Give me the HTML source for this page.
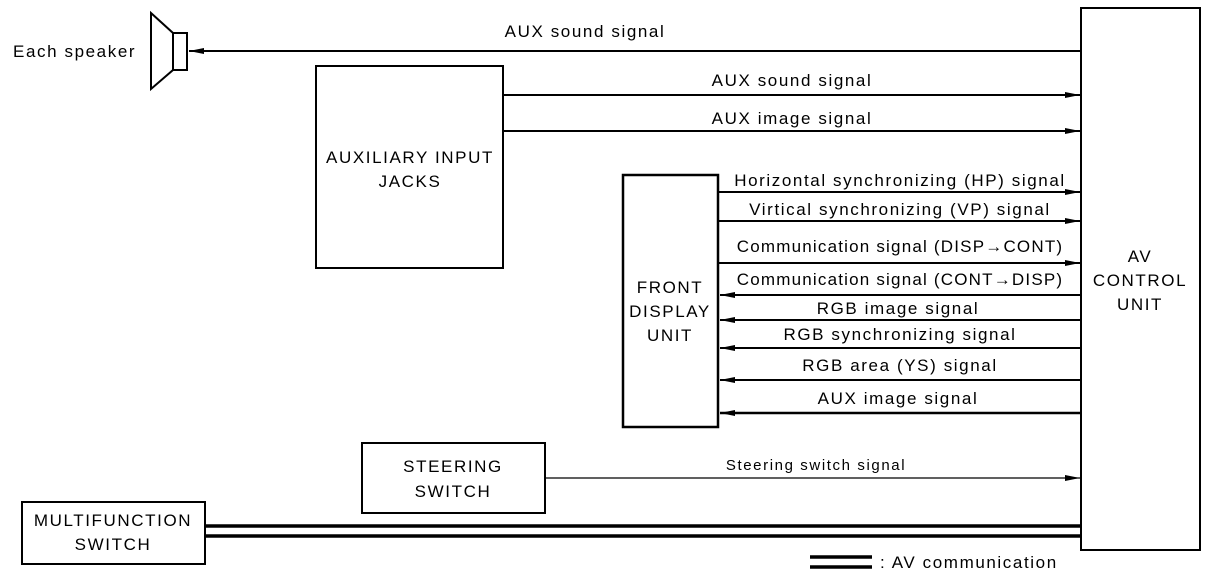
<!DOCTYPE html>
<html><head><style>
html,body{margin:0;padding:0;background:#fff;}
svg text{font-family:"Liberation Sans",sans-serif;font-size:17px;letter-spacing:1.6px;fill:#000;}
</style></head><body>
<svg width="1216" height="582" viewBox="0 0 1216 582" xmlns="http://www.w3.org/2000/svg">
<defs>
<marker id="a" markerWidth="16" markerHeight="8" refX="15" refY="4" orient="auto" markerUnits="userSpaceOnUse"><path d="M0,1 L15,4 L0,7 Z" fill="#000"/></marker>
</defs>
<g fill="none" stroke="#000" stroke-width="2">
<rect x="1081" y="8" width="119" height="542"/>
<path d="M151,13 L173,33 L173,70 L151,89 Z"/>
<rect x="173" y="33" width="14" height="37"/>
<rect x="316" y="66" width="187" height="202"/>
<rect x="623" y="175" width="95" height="252" stroke-width="2.5"/>
<rect x="362" y="443" width="183" height="70"/>
<rect x="22" y="502" width="183" height="62"/>
</g>
<g stroke="#000" stroke-width="2" fill="none">
<line x1="1081" y1="51" x2="189" y2="51" marker-end="url(#a)"/>
<line x1="503" y1="95" x2="1080" y2="95" marker-end="url(#a)"/>
<line x1="503" y1="131" x2="1080" y2="131" marker-end="url(#a)"/>
<line x1="718" y1="192" x2="1080" y2="192" marker-end="url(#a)"/>
<line x1="718" y1="221" x2="1080" y2="221" marker-end="url(#a)"/>
<line x1="718" y1="263" x2="1080" y2="263" marker-end="url(#a)"/>
<line x1="1081" y1="295" x2="720" y2="295" marker-end="url(#a)"/>
<line x1="1081" y1="320" x2="720" y2="320" marker-end="url(#a)"/>
<line x1="1081" y1="348" x2="720" y2="348" marker-end="url(#a)"/>
<line x1="1081" y1="380" x2="720" y2="380" marker-end="url(#a)"/>
<line x1="1081" y1="413" x2="720" y2="413" stroke-width="2.5" marker-end="url(#a)"/>
<line x1="545" y1="478" x2="1080" y2="478" stroke-width="1.2" marker-end="url(#a)"/>
<line x1="205" y1="526" x2="1081" y2="526" stroke-width="3.5"/>
<line x1="205" y1="536" x2="1081" y2="536" stroke-width="3.5"/>
<line x1="810" y1="557" x2="872" y2="557" stroke-width="3.5"/>
<line x1="810" y1="567" x2="872" y2="567" stroke-width="3.5"/>
</g>
<text x="13" y="57">Each speaker</text>
<text x="585" y="37" text-anchor="middle">AUX sound signal</text>
<text x="792" y="86" text-anchor="middle">AUX sound signal</text>
<text x="792" y="124" text-anchor="middle">AUX image signal</text>
<text x="410" y="163" text-anchor="middle">AUXILIARY INPUT</text>
<text x="410" y="187" text-anchor="middle">JACKS</text>
<text x="900" y="186" text-anchor="middle">Horizontal synchronizing (HP) signal</text>
<text x="900" y="215" text-anchor="middle">Virtical synchronizing (VP) signal</text>
<text x="900" y="252" text-anchor="middle" style="letter-spacing:1.2px">Communication signal (DISP&#x2192;CONT)</text>
<text x="900" y="285" text-anchor="middle" style="letter-spacing:1.2px">Communication signal (CONT&#x2192;DISP)</text>
<text x="898" y="314" text-anchor="middle">RGB image signal</text>
<text x="900" y="340" text-anchor="middle">RGB synchronizing signal</text>
<text x="900" y="371" text-anchor="middle">RGB area (YS) signal</text>
<text x="898" y="404" text-anchor="middle">AUX image signal</text>
<text x="670" y="293" text-anchor="middle">FRONT</text>
<text x="670" y="317" text-anchor="middle">DISPLAY</text>
<text x="670" y="341" text-anchor="middle">UNIT</text>
<text x="1140" y="262" text-anchor="middle">AV</text>
<text x="1140" y="286" text-anchor="middle">CONTROL</text>
<text x="1140" y="310" text-anchor="middle">UNIT</text>
<text x="453" y="472" text-anchor="middle">STEERING</text>
<text x="453" y="497" text-anchor="middle">SWITCH</text>
<text x="816" y="470" text-anchor="middle" style="font-size:15px">Steering switch signal</text>
<text x="113" y="526" text-anchor="middle">MULTIFUNCTION</text>
<text x="113" y="550" text-anchor="middle">SWITCH</text>
<text x="880" y="568">: AV communication</text>
</svg>
</body></html>
